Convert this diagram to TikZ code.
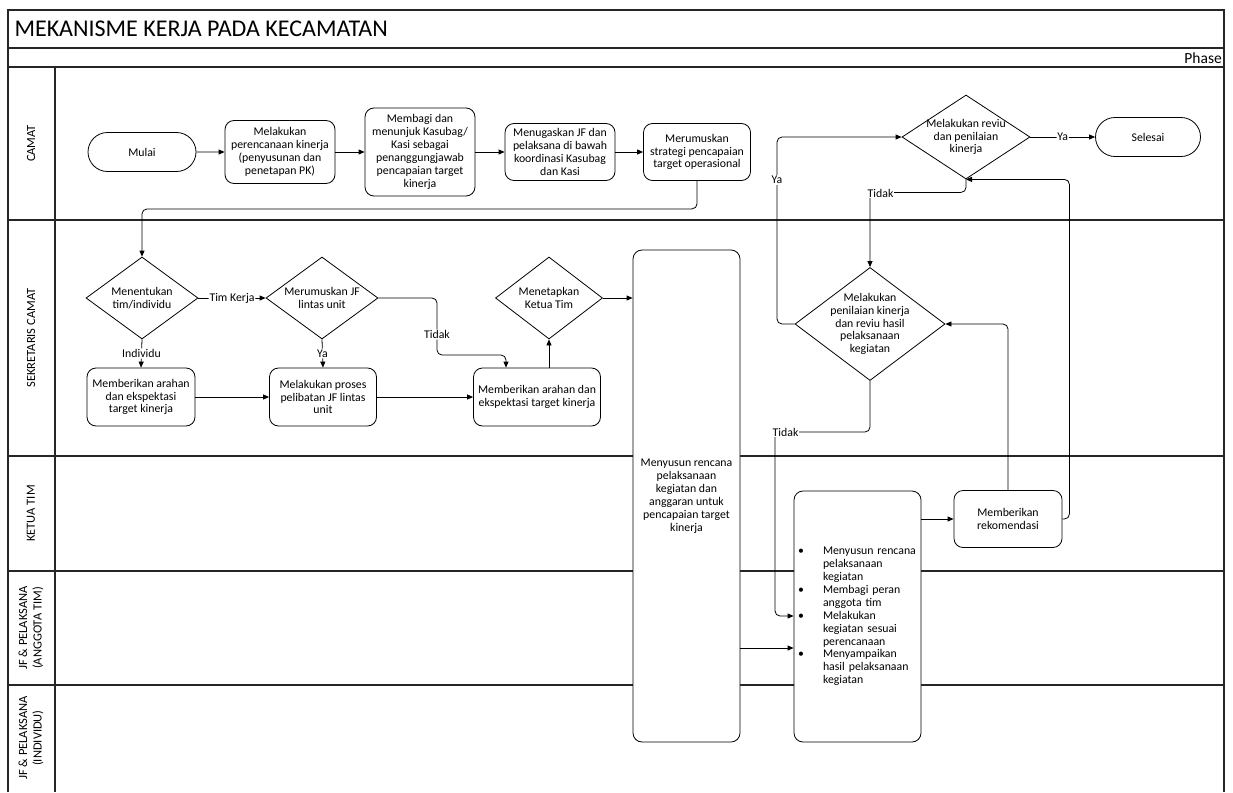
\documentclass[tikz,border=0pt]{standalone}
\usepackage{fontspec}
\setmainfont{Carlito}
\usetikzlibrary{arrows.meta,shapes.geometric,shapes.misc}
\begin{document}
\begin{tikzpicture}[x=1pt,y=-1pt,
  every node/.style={font=\fontsize{11.8}{12.9}\selectfont},
  lane/.style={line width=1.3pt, draw=black!85},
  proc/.style={draw, fill=white, rounded corners=9pt, align=center, inner sep=1pt, line width=0.8pt},
  term/.style={draw, fill=white, rounded rectangle, align=center, inner sep=1pt, line width=0.8pt},
  dec/.style={draw, fill=white, diamond, inner sep=0pt, line width=0.8pt},
  conn/.style={line width=0.8pt, rounded corners=5pt, -{Triangle[length=6pt,width=5pt]}},
  lbl/.style={fill=white, inner sep=1pt},
  lanelbl/.style={rotate=90, align=center, font=\fontsize{12.5}{14.5}\selectfont}
]
% background / bounding box
\fill[white] (0,0) rectangle (1233,792);
\useasboundingbox (0,0) rectangle (1233,792);

% frame and lanes
\draw[lane] (8,792) -- (8,10) -- (1224,10) -- (1224,792);
\draw[lane] (8,48) -- (1224,48);
\draw[lane] (8,67) -- (1224,67);
\draw[lane] (8,220) -- (1224,220);
\draw[lane] (8,456) -- (1224,456);
\draw[lane] (8,571) -- (1224,571);
\draw[lane] (8,685) -- (1224,685);
\draw[lane] (55,67) -- (55,792);

\node[anchor=west, font=\fontsize{24}{27}\selectfont] (title) at (11,29) {MEKANISME KERJA PADA KECAMATAN};
\node[anchor=east, font=\fontsize{15.5}{17}\selectfont, inner sep=1pt] (phase) at (1223,58) {Phase};

\node[lanelbl] (lcamat) at (31,143.5) {CAMAT};
\node[lanelbl] (lsek) at (31,338) {SEKRETARIS CAMAT};
\node[lanelbl] (lketua) at (31,513.5) {KETUA TIM};
\node[lanelbl] (langg) at (31,628) {JF \& PELAKSANA\\(ANGGOTA TIM)};
\node[lanelbl] (lind) at (31,738) {JF \& PELAKSANA\\(INDIVIDU)};

% CAMAT lane
\node[term, minimum width=110pt, minimum height=39pt] (mulai) at (142,152) {Mulai};
\node[proc, minimum width=110pt, minimum height=63pt] (b1) at (280,152) {Melakukan\\perencanaan kinerja\\(penyusunan dan\\penetapan PK)};
\node[proc, minimum width=110pt, minimum height=88pt] (b2) at (420,152) {Membagi dan\\menunjuk Kasubag/\\Kasi sebagai\\penanggungjawab\\pencapaian target\\kinerja};
\node[proc, minimum width=110pt, minimum height=57pt] (b3) at (560,152) {Menugaskan JF dan\\pelaksana di bawah\\koordinasi Kasubag\\dan Kasi};
\node[proc, minimum width=107pt, minimum height=57pt] (b4) at (697,152) {Merumuskan\\strategi pencapaian\\target operasional};
\node[dec, minimum width=128pt, minimum height=84pt, label={[align=center]center:Melakukan reviu\\dan penilaian\\kinerja}] (drev) at (966,137) {};
\node[term, minimum width=107pt, minimum height=39pt] (selesai) at (1148,137) {Selesai};

% SEKRETARIS lane
\node[dec, minimum width=112pt, minimum height=82pt, label={[align=center]center:Menentukan\\tim/individu}] (d1) at (142,298) {};
\node[dec, minimum width=112pt, minimum height=82pt, label={[align=center]center:Merumuskan JF\\lintas unit}] (d2) at (322,298) {};
\node[dec, minimum width=107pt, minimum height=82pt, label={[align=center]center:Menetapkan\\Ketua Tim}] (d4) at (549,298) {};
\node[proc, minimum width=108pt, minimum height=58pt] (s1) at (141,397) {Memberikan arahan\\dan ekspektasi\\target kinerja};
\node[proc, minimum width=107pt, minimum height=58pt] (s2) at (323,397) {Melakukan proses\\pelibatan JF lintas\\unit};
\node[proc, minimum width=127pt, minimum height=58pt] (s3) at (537,397) {Memberikan arahan dan\\ekspektasi target kinerja};
\node[proc, minimum width=107pt, minimum height=492pt] (big1) at (686.5,496) {Menyusun rencana\\pelaksanaan\\kegiatan dan\\anggaran untuk\\pencapaian target\\kinerja};
\node[dec, minimum width=150pt, minimum height=113pt, label={[align=center]center:Melakukan\\penilaian kinerja\\dan reviu hasil\\pelaksanaan\\kegiatan}] (d3) at (870,324) {};

% KETUA / JF lanes
\node[proc, minimum width=127pt, minimum height=251pt, text width=119pt, align=left, inner sep=4pt] (big2) at (857.5,616.5) {%
\makebox[25pt][l]{\textbullet}Menyusun rencana\\\hspace*{25pt}pelaksanaan\\\hspace*{25pt}kegiatan\\
\makebox[25pt][l]{\textbullet}Membagi peran\\\hspace*{25pt}anggota tim\\
\makebox[25pt][l]{\textbullet}Melakukan\\\hspace*{25pt}kegiatan sesuai\\\hspace*{25pt}perencanaan\\
\makebox[25pt][l]{\textbullet}Menyampaikan\\\hspace*{25pt}hasil pelaksanaan\\\hspace*{25pt}kegiatan};
\node[proc, minimum width=108pt, minimum height=57pt] (rek) at (1008,519) {Memberikan\\rekomendasi};

% helper coordinates
\coordinate (tj) at (437,355);
\coordinate (tk) at (506,355);
\coordinate (y648) at (700,648);
\coordinate (tc) at (775,432);
\coordinate (y616) at (700,616);
\coordinate (ya) at (777,137);

% connectors
\draw[conn] (mulai) -- (b1);
\draw[conn] (b1) -- (b2);
\draw[conn] (b2) -- (b3);
\draw[conn] (b3) -- (b4);
\draw[conn] (b4.south) -- ++(0,28) -| (d1.north);
\draw[conn] (d1.east) -- node[lbl]{Tim Kerja} (d2.west);
\draw[conn] (d1.south) -- node[lbl]{Individu} (s1.north);
\draw[conn] (d2.south) -- node[lbl]{Ya} (s2.north);
\draw[conn] (d2.east) -| node[lbl, pos=0.82]{Tidak} (tj) -- (tk) -- (tk |- s3.north);
\draw[conn] (s1) -- (s2);
\draw[conn] (s2) -- (s3);
\draw[conn] (s3.north -| d4.south) -- (d4.south);
\draw[conn] (d4.east) -- (d4.east -| big1.west);
\draw[conn] (big1.east |- y648) -- (big2.west |- y648);
\draw[conn] (d3.south) |- (tc) -- (tc |- y616) -- (big2.west |- y616);
\node[lbl, anchor=west, inner sep=0.5pt] (ltd2) at (772,432) {Tidak};
\draw[conn] (d3.west) -- (d3.west -| ya) -- (ya) -- (drev.west);
\node[lbl] (lya2) at (777,180) {Ya};
\draw[conn] (drev.south) -- ++(0,13) -| (d3.north);
\node[lbl, anchor=west, inner sep=0.5pt] (ltd1) at (867,193) {Tidak};
\draw[conn] (drev.east) -- node[lbl]{Ya} (selesai.west);
\draw[conn] (big2.east |- rek.west) -- (rek.west);
\draw[conn] (rek.north) |- (d3.east);
\draw[conn] (rek.east) -- ++(7,0) |- (drev.south);
\end{tikzpicture}
\end{document}
